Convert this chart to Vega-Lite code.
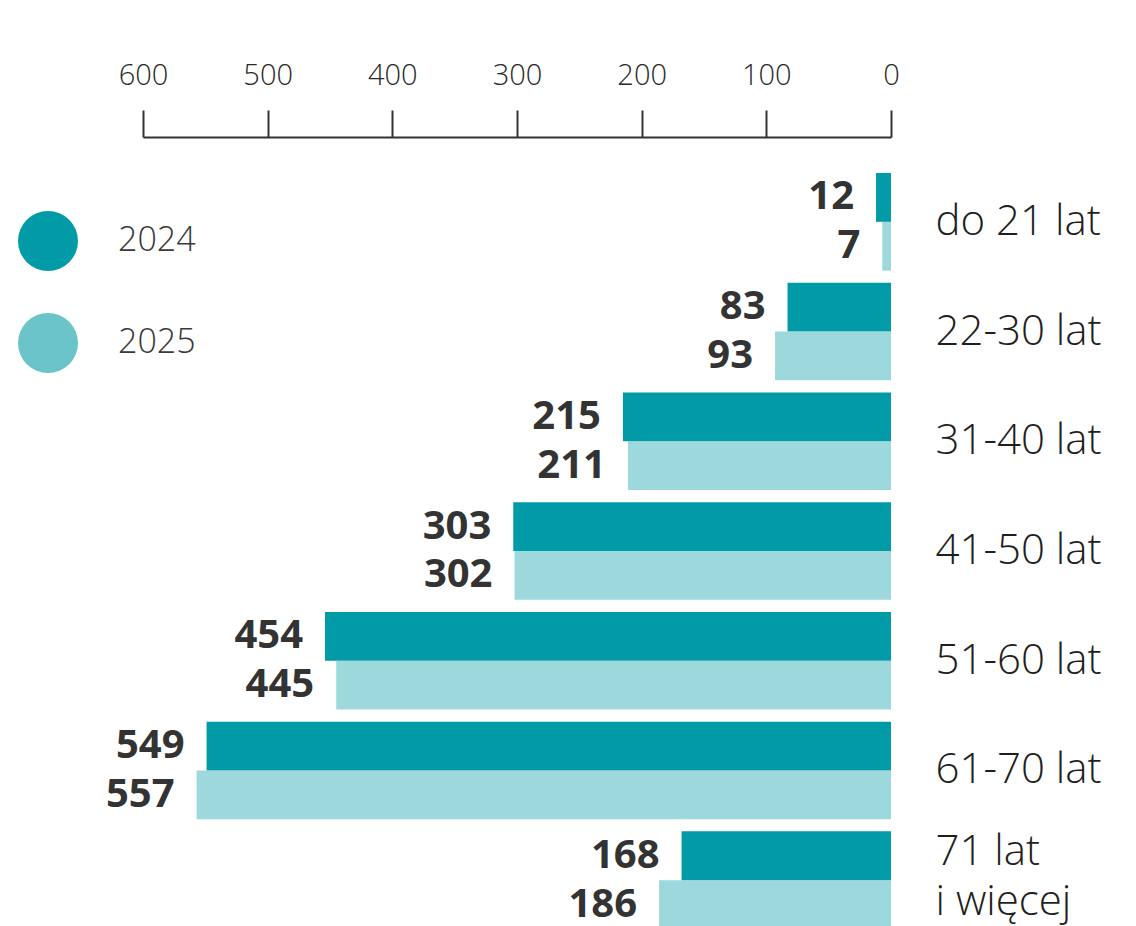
{
  "$schema": "https://vega.github.io/schema/vega-lite/v6.json",
  "width": 748,
  "height": 828,
  "autosize": {"type": "none"},
  "padding": {"top": 137, "left": 143, "right": 245, "bottom": -39},
  "background": "white",
  "config": {
    "view": {"stroke": null},
    "font": "Open Sans"
  },
  "data": {
    "values": [
      {"grupa": "do 21 lat", "rok": "2024", "liczba": 12},
      {"grupa": "do 21 lat", "rok": "2025", "liczba": 7},
      {"grupa": "22-30 lat", "rok": "2024", "liczba": 83},
      {"grupa": "22-30 lat", "rok": "2025", "liczba": 93},
      {"grupa": "31-40 lat", "rok": "2024", "liczba": 215},
      {"grupa": "31-40 lat", "rok": "2025", "liczba": 211},
      {"grupa": "41-50 lat", "rok": "2024", "liczba": 303},
      {"grupa": "41-50 lat", "rok": "2025", "liczba": 302},
      {"grupa": "51-60 lat", "rok": "2024", "liczba": 454},
      {"grupa": "51-60 lat", "rok": "2025", "liczba": 445},
      {"grupa": "61-70 lat", "rok": "2024", "liczba": 549},
      {"grupa": "61-70 lat", "rok": "2025", "liczba": 557},
      {"grupa": "71 lat i więcej", "rok": "2024", "liczba": 168},
      {"grupa": "71 lat i więcej", "rok": "2025", "liczba": 186}
    ]
  },
  "encoding": {
    "y": {
      "field": "grupa",
      "type": "nominal",
      "sort": null,
      "scale": {"paddingInner": 0.11, "paddingOuter": 0.328},
      "axis": {
        "orient": "right",
        "title": null,
        "domain": false,
        "ticks": false,
        "labelAlign": "left",
        "labelPadding": 44,
        "labelFontSize": 42,
        "labelFontWeight": 300,
        "labelColor": "#1f1f1f",
        "labelLineHeight": 50,
        "labelExpr": "datum.label == '71 lat i więcej' ? ['71 lat', 'i więcej'] : datum.label",
        "labelOffset": {"condition": {"test": "datum.value == '71 lat i więcej'", "value": -28}, "value": 0}
      }
    }
  },
  "layer": [
    {
      "mark": {"type": "bar"},
      "encoding": {
        "x": {
          "field": "liczba",
          "type": "quantitative",
          "scale": {"domain": [0, 600], "reverse": true, "nice": false},
          "axis": {
            "orient": "top",
            "title": null,
            "values": [0, 100, 200, 300, 400, 500, 600],
            "grid": false,
            "domainColor": "#333333",
            "domainWidth": 2,
            "tickColor": "#333333",
            "tickWidth": 2,
            "tickSize": 27,
            "labelFontSize": 29,
            "labelFontWeight": 300,
            "labelColor": "#2a2a2a",
            "labelPadding": 20,
            "labelFlush": false
          }
        },
        "yOffset": {"field": "rok", "type": "nominal", "scale": {"paddingInner": 0, "paddingOuter": 0}},
        "color": {
          "field": "rok",
          "type": "nominal",
          "scale": {"domain": ["2024", "2025"], "range": ["#009ba7", "#6ac4ca"]},
          "legend": {
            "orient": "none",
            "legendX": -125,
            "legendY": 74,
            "title": null,
            "padding": 0,
            "symbolType": "circle",
            "symbolSize": 3600,
            "symbolStrokeWidth": 0,
            "symbolOpacity": 1,
            "labelFontSize": 34,
            "labelFontWeight": 300,
            "labelColor": "#3a3a3a",
            "labelOffset": 40,
            "rowPadding": 42
          }
        },
        "opacity": {"condition": {"test": "datum.rok == '2025'", "value": 0.66}, "value": 1}
      }
    },
    {
      "mark": {"type": "text", "align": "right", "baseline": "middle", "dx": -22, "fontSize": 40, "fontWeight": "bold", "color": "#333333"},
      "encoding": {
        "x": {"field": "liczba", "type": "quantitative"},
        "yOffset": {"field": "rok", "type": "nominal"},
        "text": {"field": "liczba", "type": "quantitative"}
      }
    },
    {
      "mark": {"type": "rule", "color": "#333333", "strokeWidth": 1.5, "strokeDash": [2, 4]},
      "encoding": {"x": {"datum": 0}}
    }
  ]
}
